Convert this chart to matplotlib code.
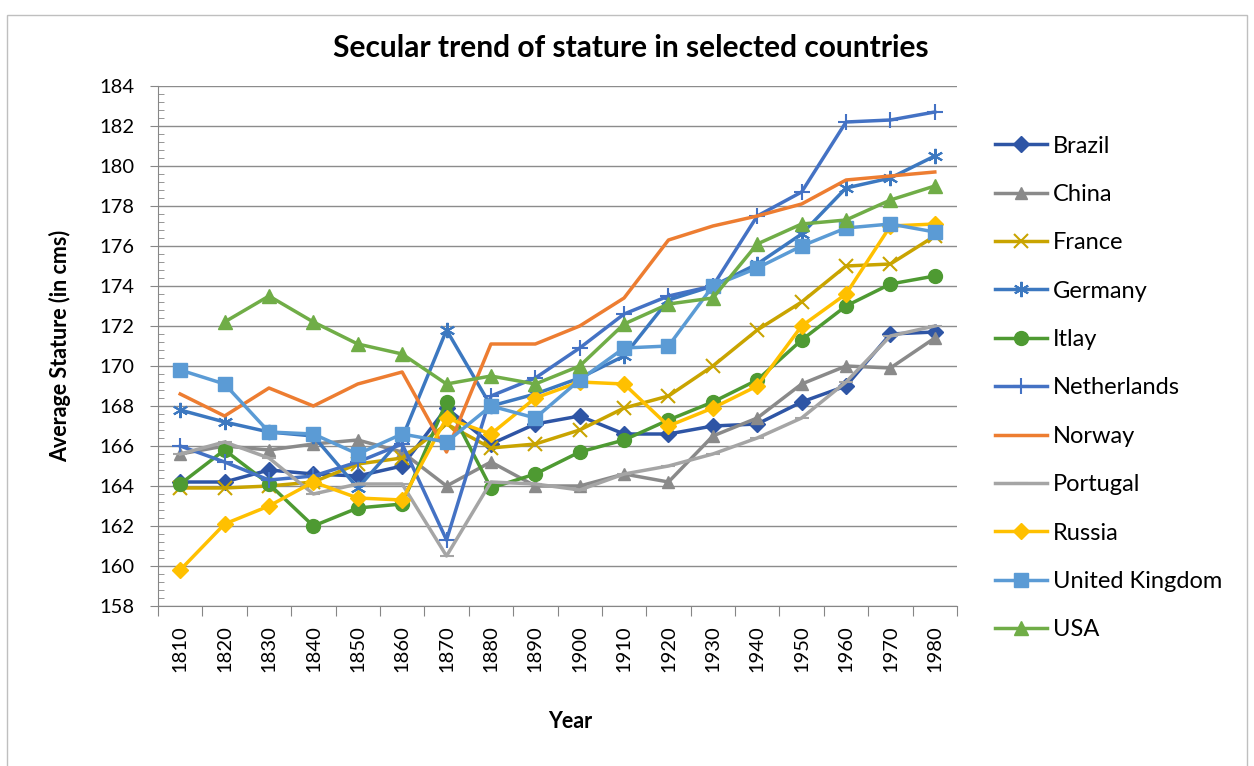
import numpy as np
import matplotlib.pyplot as plt
from matplotlib.ticker import MultipleLocator, FixedLocator
from matplotlib.patches import Rectangle

plt.rcParams['font.family'] = ['Lato', 'DejaVu Sans']

years = [1810, 1820, 1830, 1840, 1850, 1860, 1870, 1880, 1890,
         1900, 1910, 1920, 1930, 1940, 1950, 1960, 1970, 1980]

brazil = [164.2, 164.2, 164.8, 164.6, 164.5, 165.0, 167.9, 166.1, 167.1,
          167.5, 166.6, 166.6, 167.0, 167.1, 168.2, 169.0, 171.6, 171.7]
china = [165.6, 166.0, 165.8, 166.1, 166.3, 165.7, 164.0, 165.2, 164.0,
         164.0, 164.6, 164.2, 166.5, 167.4, 169.1, 170.0, 169.9, 171.4]
france = [163.9, 163.9, 164.0, 164.2, 165.1, 165.4, 167.1, 165.9, 166.1,
          166.8, 167.9, 168.5, 170.0, 171.8, 173.2, 175.0, 175.1, 176.5]
germany = [167.8, 167.2, 166.7, 166.5, 163.9, 166.4, 171.8, 168.0, 168.6,
           169.4, 170.5, 173.3, 174.0, 175.1, 176.6, 178.9, 179.4, 180.5]
itlay = [164.1, 165.8, 164.1, 162.0, 162.9, 163.1, 168.2, 163.9, 164.6,
         165.7, 166.3, 167.3, 168.2, 169.3, 171.3, 173.0, 174.1, 174.5]
netherlands = [166.0, 165.2, 164.3, 164.5, 165.2, 166.1, 161.3, 168.5, 169.4,
               170.9, 172.6, 173.5, 174.0, 177.5, 178.7, 182.2, 182.3, 182.7]
norway = [168.6, 167.5, 168.9, 168.0, 169.1, 169.7, 165.7, 171.1, 171.1,
          172.0, 173.4, 176.3, 177.0, 177.5, 178.1, 179.3, 179.5, 179.7]
portugal = [165.6, 166.2, 165.4, 163.6, 164.1, 164.1, 160.5, 164.2, 164.1,
            163.8, 164.6, 165.0, 165.6, 166.4, 167.4, 169.2, 171.5, 172.0]
russia = [159.8, 162.1, 163.0, 164.2, 163.4, 163.3, 167.4, 166.6, 168.4,
          169.2, 169.1, 167.0, 167.9, 169.0, 172.0, 173.6, 177.0, 177.1]
united_kingdom = [169.8, 169.1, 166.7, 166.6, 165.6, 166.6, 166.2, 168.0, 167.4,
                  169.3, 170.9, 171.0, 174.0, 174.9, 176.0, 176.9, 177.1, 176.7]
usa = [np.nan, 172.2, 173.5, 172.2, 171.1, 170.6, 169.1, 169.5, 169.1,
       170.0, 172.1, 173.1, 173.4, 176.1, 177.1, 177.3, 178.3, 179.0]

# name, values, colour, marker, marker size
series = [
    ("Brazil", brazil, "#2E55A5", "D", 8),
    ("China", china, "#8A8A8A", "^", 9),
    ("France", france, "#C9A400", "x", 10),
    ("Germany", germany, "#3C78C0", (6, 2, 0), 11),
    ("Itlay", itlay, "#4E9A32", "o", 10),
    ("Netherlands", netherlands, "#4472C4", "+", 12),
    ("Norway", norway, "#ED7D31", None, 0),
    ("Portugal", portugal, "#A5A5A5", "_", 10),
    ("Russia", russia, "#FFC000", "D", 8),
    ("United Kingdom", united_kingdom, "#5B9BD5", "s", 10),
    ("USA", usa, "#70AD47", "^", 10),
]

fig = plt.figure(figsize=(12.54, 7.66), dpi=100)
ax = fig.add_axes([158 / 1254, 1 - 606 / 766, (957 - 158) / 1254, (606 - 86) / 766])

x = np.arange(len(years))
for name, vals, col, mk, ms in series:
    ax.plot(x, vals, color=col, lw=2.5, marker=mk, markersize=ms,
            markeredgewidth=1.5 if mk in ("x", "+", "_", (6, 2, 0)) else 1,
            markeredgecolor=col, markerfacecolor=col, label=name)

ax.set_xlim(-0.5, len(years) - 0.5)
ax.set_ylim(158, 184)

# category ticks between groups, labels at centres
ax.xaxis.set_major_locator(FixedLocator(np.arange(-0.5, len(years), 1)))
ax.xaxis.set_minor_locator(FixedLocator(x))
ax.set_xticklabels([])
ax.set_xticks(x, [str(y) for y in years], minor=True)
ax.tick_params(axis="x", which="major", direction="out", length=7, color="#868686")
ax.tick_params(axis="x", which="minor", length=0, pad=14, labelsize=14.5, labelrotation=90)

ax.yaxis.set_major_locator(MultipleLocator(2))
ax.yaxis.set_minor_locator(MultipleLocator(0.4))
ax.tick_params(axis="y", which="major", direction="out", length=6, pad=11,
               labelsize=14.5, color="#868686")
ax.tick_params(axis="y", which="minor", direction="in", length=4, color="#868686")

ax.grid(axis="y", which="major", color="#8C8C8C", lw=1)
ax.set_axisbelow(True)
for s in ("top", "right"):
    ax.spines[s].set_visible(False)
for s in ("left", "bottom"):
    ax.spines[s].set_color("#868686")

fig.text(631 / 1254, 1 - 48 / 766, "Secular trend of stature in selected countries",
         ha="center", va="center", fontsize=21.5, fontweight="bold")
fig.text(60 / 1254, 1 - 346 / 766, "Average Stature (in cms)", rotation=90,
         ha="center", va="center", fontsize=15.5, fontweight="bold")
fig.text(570 / 1254, 1 - 722 / 766, "Year", ha="center", va="center",
         fontsize=15.5, fontweight="bold")

fig.legend(loc="center left", bbox_to_anchor=(995 / 1254, 1 - 388 / 766),
           frameon=False, fontsize=17, labelspacing=1.16, handlelength=2.2,
           handletextpad=0.25, borderpad=0, borderaxespad=0)

fig.patches.append(Rectangle((7 / 1254, -0.01), 1240 / 1254, 1.01 - 15 / 766,
                             transform=fig.transFigure, fill=False,
                             edgecolor="#BFBFBF", lw=1))

fig.savefig("out.png", dpi=100)
